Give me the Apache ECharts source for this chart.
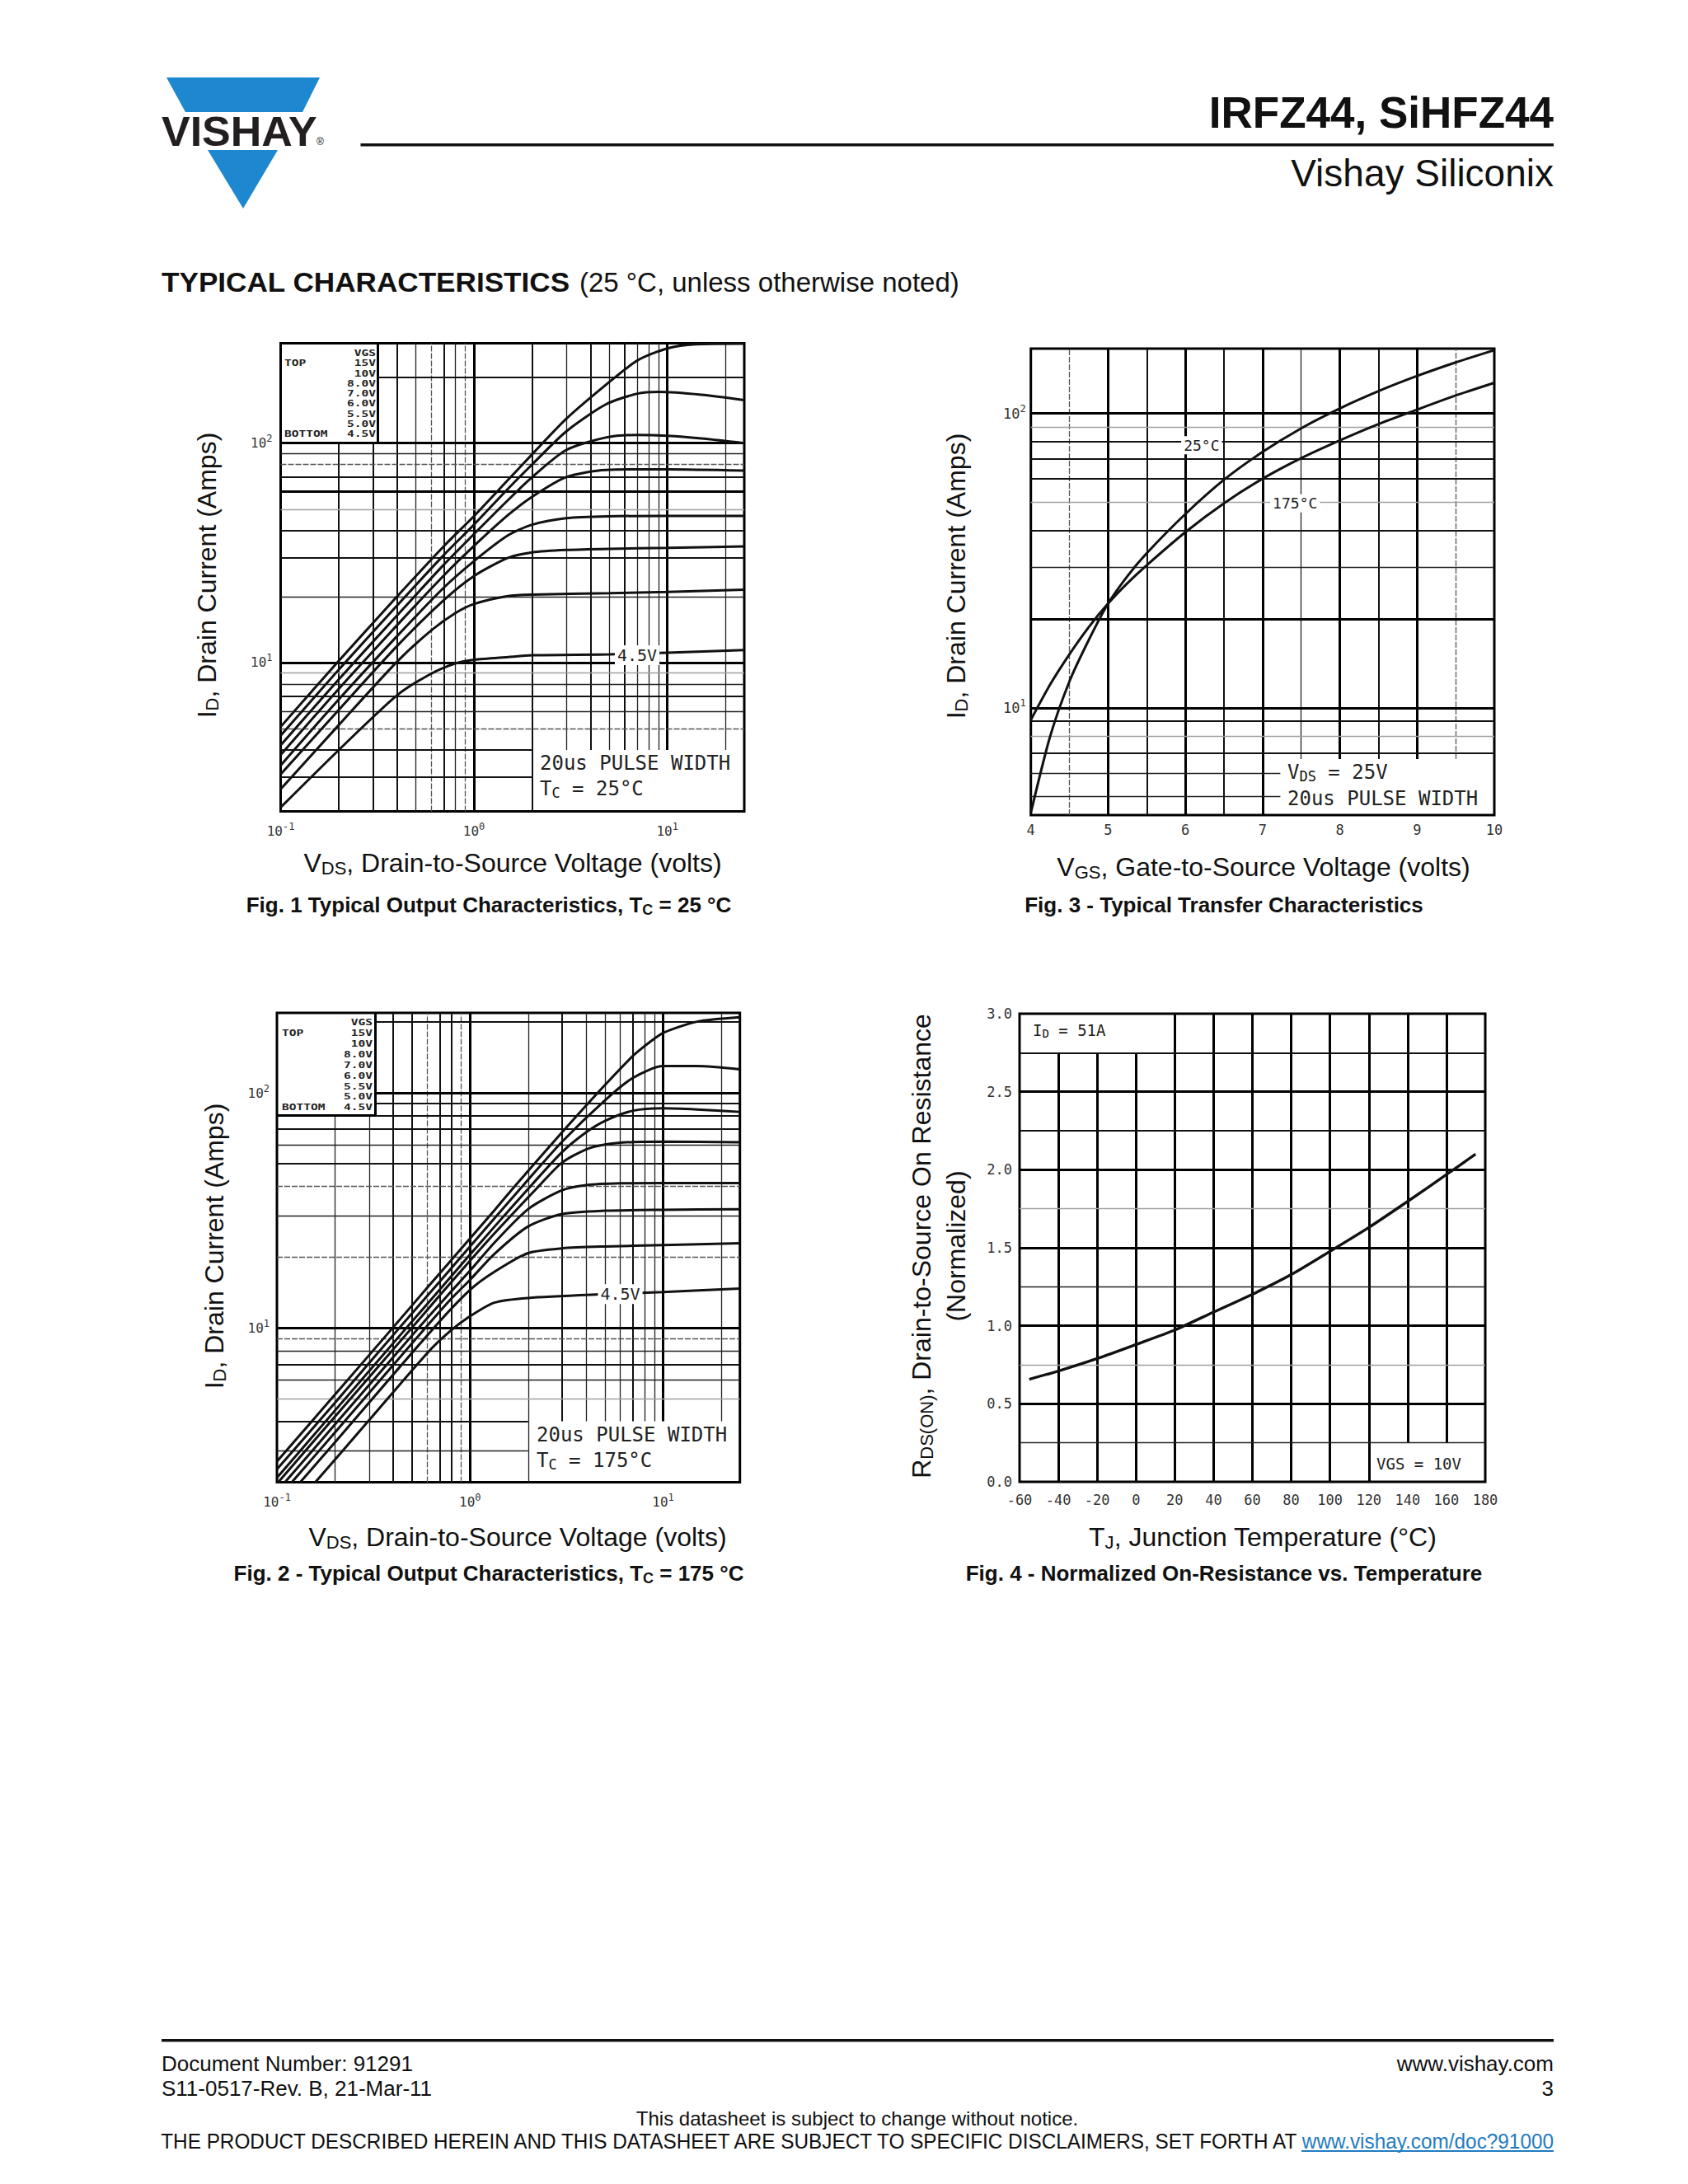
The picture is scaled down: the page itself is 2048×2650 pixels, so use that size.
<!DOCTYPE html>
<html>
<head>
<meta charset="utf-8">
<title>IRFZ44, SiHFZ44 - Typical Characteristics</title>
<script src="https://cdn.jsdelivr.net/npm/echarts@6/dist/echarts.min.js"></script>
<style>
  html, body { margin: 0; padding: 0; background: #fff; }
  #page { width: 2048px; height: 2650px; }
</style>
</head>
<body>
<div id="page"></div>
<script>
// ---------- values ----------
// Fig. 1, Tc = 25 C : [VDS (V), ID (A)] per gate voltage
const vgsLabels = ['15V', '10V', '8.0V', '7.0V', '6.0V', '5.5V', '5.0V', '4.5V'];
const f1_15V = [[0.1,5.1],[0.2,10.2],[0.4,20],[0.7,34],[1,46.5],[1.5,68],[2,89],[3,129],[4.8,184],[7,238],[10,270],[14,282],[25,284]];
const f1_10V = [[0.1,4.65],[0.2,9.3],[0.4,18.2],[0.7,31],[1,42.5],[1.5,62],[2,80],[3,113],[4.8,150],[7,168],[9,171],[15,166],[25,157]];
const f1_8V = [[0.1,4.2],[0.2,8.4],[0.4,16.4],[0.7,28],[1,38.5],[1.5,55],[2,70],[3,93],[4.8,106],[7,109],[10,108],[15,105],[25,100]];
const f1_7V = [[0.1,3.8],[0.2,7.6],[0.4,14.8],[0.7,25],[1,34],[1.5,47],[2,57],[3,70],[4.8,75.5],[10,76],[25,75]];
const f1_6V = [[0.1,3.4],[0.2,6.8],[0.4,13.2],[0.7,22],[1,29],[1.5,38],[2,42.5],[3,45.5],[5,46.4],[10,46.6],[25,46.6]];
const f1_55V = [[0.1,3.1],[0.2,6.1],[0.4,11.9],[0.7,19.3],[1,24.8],[1.5,30],[2,31.8],[3,32.6],[5,33],[10,33.3],[25,33.8]];
const f1_5V = [[0.1,2.65],[0.2,5.2],[0.4,10.1],[0.6,14],[0.8,16.8],[1,18.5],[1.5,20.1],[2,20.4],[5,20.7],[10,21],[25,21.5]];
const f1_45V = [[0.1,2.19],[0.2,4],[0.4,7.1],[0.6,8.9],[0.8,9.9],[1,10.3],[1.5,10.6],[2,10.8],[5,10.9],[10,11.1],[25,11.4]];

// Fig. 2, Tc = 175 C
const f2_15V = [[0.1,2.7],[0.2,5.2],[0.398,10],[0.6,14.8],[1,24],[1.336,31.6],[1.725,40.5],[2,46.5],[3,68],[5,108],[7,144],[8.5,164],[10,180],[15,201],[25,210]];
const f2_10V = [[0.1,2.5],[0.2,4.8],[0.431,10],[0.7,15.8],[1,22.2],[1.336,29.2],[1.915,41],[3,62],[5,93],[7,116],[10,130],[15,130],[25,126]];
const f2_8V = [[0.1,2.3],[0.2,4.45],[0.469,10],[0.7,14.6],[1,20.5],[1.336,26.9],[2.11,41],[3,56],[4,68],[5,76],[7,84],[10,86],[15,85],[25,83]];
const f2_7V = [[0.1,2.17],[0.2,4.19],[0.5,10],[0.7,13.8],[1,19.3],[1.336,25.2],[2.33,41],[3,50.5],[4,57.5],[5,60.3],[7,61.8],[10,62],[25,61.6]];
const f2_6V = [[0.11,2.2],[0.2,3.88],[0.542,10],[0.8,14.3],[1,17.5],[1.336,23],[2,32],[3,38.5],[4,40.5],[6,41.2],[10,41.3],[25,41.3]];
const f2_55V = [[0.1194,2.2],[0.2,3.59],[0.588,10],[0.8,13.3],[1,16],[1.336,20.6],[2,27],[3,30.5],[5,31.5],[10,31.8],[25,32]];
const f2_5V = [[0.132,2.2],[0.2,3.26],[0.65,10],[1,14.5],[1.336,17.3],[2,20.8],[3,21.8],[5,22.2],[10,22.5],[25,22.9]];
const f2_45V = [[0.158,2.2],[0.3,4.04],[0.6,7.8],[0.78,9.6],[1,11.2],[1.336,12.8],[2,13.4],[5,13.9],[10,14.2],[25,14.7]];

// Fig. 3, transfer characteristics (VDS = 25 V)
const vgsSteps = [4, 4.25, 4.5, 4.75, 5, 5.25, 5.5, 6, 6.5, 7, 7.5, 8, 8.5, 9, 9.5, 10];
const idAt25C = [4.4, 8, 12.3, 17, 22.6, 28, 33.5, 45.5, 59.5, 74, 89, 104, 119, 134, 149, 164];
const idAt175C = [9.1, 12, 15.2, 18.8, 22.6, 26.5, 30.5, 39.5, 49.5, 60, 70.5, 81, 92, 103, 115, 127];

// Fig. 4, normalized on-resistance vs junction temperature
const tjSteps = [-55, -40, -20, 0, 20, 40, 60, 80, 100, 120, 140, 160, 175];
const rdsNorm = [0.657, 0.71, 0.79, 0.88, 0.973, 1.088, 1.202, 1.328, 1.477, 1.63, 1.797, 1.969, 2.1];

// ---------- styling ----------
const SANS = '"Liberation Sans", Arial, sans-serif';
const MONO = '"DejaVu Sans Mono", monospace';
const BLUE = '#1d87cf';
const LINK = '#1f7bc0';

// grid line weights of the scanned graph paper
const LS = {
  T: { color: '#000', width: 3, type: 'solid' },
  M: { color: '#111', width: 2, type: 'solid' },
  N: { color: '#222', width: 1.3, type: 'solid' },
  G: { color: '#a0a0a0', width: 1.4, type: 'solid' },
  D: { color: '#555', width: 1.3, type: [7, 2] }
};
function vl(x, s, y0, y1) {
  if (y0 === undefined) return { xAxis: x, lineStyle: LS[s] };
  return [{ coord: [x, y0], lineStyle: LS[s] }, { coord: [x, y1] }];
}
function hl(y, s, x0, x1) {
  if (x0 === undefined) return { yAxis: y, lineStyle: LS[s] };
  return [{ coord: [x0, y], lineStyle: LS[s] }, { coord: [x1, y] }];
}

const grid1Lines = [
  vl(0.4,'M'), vl(0.5,'N'), vl(0.6,'D'), vl(0.7,'M'), vl(0.8,'N'), vl(0.9,'D'), vl(1,'T'), vl(2,'M'),
  vl(0.2,'M',2.1,100), vl(0.3,'M',2.1,100), vl(0.319,'T',100,285),
  vl(3,'N',4,285), vl(4,'M',4,285), vl(5,'N',4,285), vl(6,'M',4,285), vl(7,'N',4,285),
  vl(8,'N',4,285), vl(9,'N',4,285), vl(10,'T',4,285), vl(20,'N',4,285),
  hl(100,'T'), hl(90,'N'), hl(80,'D'), hl(70,'M'), hl(60,'T'), hl(50,'G'), hl(40,'M'), hl(30,'M'),
  hl(20,'N'), hl(10,'T'), hl(9,'G'), hl(8,'N'), hl(7,'M'), hl(6,'N'), hl(5,'D'),
  hl(200,'M',0.319,25), hl(4,'M',0.1,2), hl(3,'M',0.1,2)
];
const grid2Lines = [
  vl(0.4,'M'), vl(0.5,'M'), vl(0.6,'D'), vl(0.7,'M'), vl(0.8,'M'), vl(0.9,'D'), vl(1,'T'), vl(2,'N'),
  vl(0.2,'N',2.2,80), vl(0.3,'N',2.2,80), vl(0.324,'T',80,219),
  vl(3,'M',4,219), vl(4,'N',4,219), vl(5,'N',4,219), vl(6,'N',4,219), vl(7,'M',4,219),
  vl(8,'N',4,219), vl(9,'N',4,219), vl(10,'T',4,219), vl(20,'N',4,219),
  hl(80,'M'), hl(70,'M'), hl(60,'N'), hl(50,'M'), hl(40,'D'), hl(30,'N'), hl(20,'D'),
  hl(10,'T'), hl(9,'D'), hl(8,'N'), hl(7,'M'), hl(6,'N'), hl(5,'G'),
  hl(200,'M',0.324,25), hl(100,'T',0.324,25), hl(90,'M',0.324,25), hl(80,'T',0.1,0.324),
  hl(4,'M',0.1,2), hl(3,'N',0.1,2)
];
const grid3Lines = [
  vl(4.5,'D'), vl(5,'T'), vl(5.5,'M'), vl(6,'T'), vl(6.5,'M'), vl(7,'T'),
  vl(7.5,'N',6.7,166), vl(8,'T',6.7,166), vl(8.5,'M',6.7,166), vl(9,'T',6.7,166), vl(9.5,'D',6.7,166),
  hl(100,'T'), hl(90,'G'), hl(80,'M'), hl(70,'M'), hl(60,'M'), hl(50,'G'), hl(40,'M'), hl(30,'N'),
  hl(20,'T'), hl(10,'T'), hl(9,'M'), hl(8,'G'), hl(7,'M'),
  hl(6,'N',4,7.23), hl(5,'N',4,7.23)
];
const grid4Lines = [
  vl(20,'T'), vl(40,'T'), vl(60,'T'), vl(80,'T'), vl(100,'T'), vl(120,'T'),
  vl(-40,'T',0,2.75), vl(-20,'T',0,2.75), vl(0,'T',0,2.75),
  vl(140,'T',0.25,3), vl(160,'T',0.25,3),
  hl(2.75,'M'), hl(2.5,'T'), hl(2.25,'M'), hl(2,'T'), hl(1.75,'G'), hl(1.5,'T'),
  hl(1.25,'N'), hl(1,'T'), hl(0.75,'G'), hl(0.5,'T'), hl(0.25,'N')
];

function gridSeries(idx, lines) {
  return {
    type: 'line', xAxisIndex: idx, yAxisIndex: idx, data: [], silent: true, animation: false,
    markLine: { silent: true, animation: false, symbol: ['none', 'none'], label: { show: false },
      emphasis: { disabled: true }, z: 1, data: lines }
  };
}
function curve(idx, data, extra) {
  return Object.assign({
    type: 'line', xAxisIndex: idx, yAxisIndex: idx, data: data, showSymbol: false, symbol: 'none',
    smooth: 0.25, lineStyle: { color: '#111', width: 3 },
    silent: true, animation: false, z: 3
  }, extra);
}
function tag(coord, text, size) {
  return {
    symbol: 'rect', symbolSize: 1, silent: true, animation: false, itemStyle: { color: 'rgba(0,0,0,0)' },
    label: { show: true, position: 'inside', formatter: text, fontFamily: MONO, fontSize: size,
      color: '#222', backgroundColor: '#fff', padding: [2, 3] },
    data: [{ coord: coord }]
  };
}

function logLabels(size, margin) {
  return {
    margin: margin, color: '#333', fontFamily: MONO, fontSize: size,
    formatter: function (v) {
      const lg = Math.log10(v), e = Math.round(lg);
      return Math.abs(lg - e) < 1e-6 ? '{m|10}{e|' + e + '}' : '';
    },
    rich: {
      m: { fontFamily: MONO, fontSize: size, color: '#333' },
      e: { fontFamily: MONO, fontSize: Math.round(size * 0.72), color: '#333', padding: [0, 0, 11, 0] }
    }
  };
}
const plainAxis = { axisLine: { show: false }, axisTick: { show: false }, splitLine: { show: false } };
function numLabels(margin, fmt) {
  return { margin: margin, color: '#333', fontFamily: MONO, fontSize: 17, formatter: fmt };
}

// ---------- page texts ----------
function T(x, y, text, size, style, el) {
  return Object.assign({
    type: 'text', x: x, y: y, z: 100, silent: true,
    style: Object.assign({ text: text, fontSize: size, fontFamily: SANS, fill: '#111', align: 'left', verticalAlign: 'middle' }, style)
  }, el);
}
function sub(size, fam) {
  return { fontSize: size, fontFamily: fam || SANS, fill: '#111', padding: [Math.round(size * 0.6), 0, 0, 0] };
}
const titleRich = { s: sub(22) };
const capRich = { b: { fontSize: 26, fontFamily: SANS, fontWeight: 'bold', fill: '#111' }, s: Object.assign(sub(18), { fontWeight: 'bold' }) };
const monoRich = { s: sub(17, MONO) };
const UP = { rotation: Math.PI / 2 };

const elements = [
  // logo
  { type: 'polygon', z: 100, silent: true, shape: { points: [[202, 94], [388, 94], [367, 136], [225, 136]] }, style: { fill: BLUE } },
  { type: 'polygon', z: 100, silent: true, shape: { points: [[252, 182], [337, 182], [295, 253]] }, style: { fill: BLUE } },
  T(196, 160, 'VISHAY', 50, { fontWeight: 'bold', fill: '#231f20' }, { scaleX: 1.04 }),
  T(384, 172, '®', 12),
  T(1885, 136.5, 'IRFZ44, SiHFZ44', 53, { fontWeight: 'bold', align: 'right' }),
  { type: 'rect', z: 100, silent: true, shape: { x: 437.5, y: 174, width: 1447.5, height: 3.5 }, style: { fill: '#111' } },
  T(1885, 210, 'Vishay Siliconix', 46, { align: 'right' }),
  T(196, 342, 'TYPICAL CHARACTERISTICS', 33, { fontWeight: 'bold' }, { scaleX: 1.065 }),
  T(703, 342, '(25 °C, unless otherwise noted)', 33),

  // captions
  T(593, 1098, '{b|Fig. 1 Typical Output Characteristics, T}{s|C}{b| = 25 °C}', 26, { align: 'center', rich: capRich }),
  T(1485, 1098, '{b|Fig. 3 - Typical Transfer Characteristics}', 26, { align: 'center', rich: capRich }),
  T(593, 1909, '{b|Fig. 2 - Typical Output Characteristics, T}{s|C}{b| = 175 °C}', 26, { align: 'center', rich: capRich }),
  T(1485, 1909, '{b|Fig. 4 - Normalized On-Resistance vs. Temperature}', 26, { align: 'center', rich: capRich }),

  // axis titles
  T(622, 1047, 'V{s|DS}, Drain-to-Source Voltage (volts)', 32, { align: 'center', rich: titleRich }),
  T(251, 698, 'I{s|D}, Drain Current (Amps)', 32, { align: 'center', rich: titleRich }, UP),
  T(1533, 1052, 'V{s|GS}, Gate-to-Source Voltage (volts)', 32, { align: 'center', rich: titleRich }),
  T(1160, 699, 'I{s|D}, Drain Current (Amps)', 32, { align: 'center', rich: titleRich }, UP),
  T(628, 1865, 'V{s|DS}, Drain-to-Source Voltage (volts)', 32, { align: 'center', rich: titleRich }),
  T(260, 1512, 'I{s|D}, Drain Current (Amps)', 32, { align: 'center', rich: titleRich }, UP),
  T(1532, 1865, 'T{s|J}, Junction Temperature (°C)', 32, { align: 'center', rich: titleRich }),
  T(1118, 1512, 'R{s|DS(ON)}, Drain-to-Source On Resistance', 32, { align: 'center', rich: titleRich }, UP),
  T(1160, 1512, '(Normalized)', 32, { align: 'center' }, UP),

  // in-plot notes
  T(655, 926, '20us PULSE WIDTH', 24, { fontFamily: MONO, fill: '#222' }),
  T(655, 957, 'T{s|C} = 25°C', 24, { fontFamily: MONO, fill: '#222', rich: monoRich }),
  T(651, 1741, '20us PULSE WIDTH', 24, { fontFamily: MONO, fill: '#222' }),
  T(651, 1772, 'T{s|C} = 175°C', 24, { fontFamily: MONO, fill: '#222', rich: monoRich }),
  T(1562, 937, 'V{s|DS} = 25V', 24, { fontFamily: MONO, fill: '#222', rich: monoRich }),
  T(1562, 969, '20us PULSE WIDTH', 24, { fontFamily: MONO, fill: '#222' }),
  T(1253, 1250, 'I{s|D} = 51A', 19, { fontFamily: MONO, fill: '#222', rich: { s: sub(14, MONO) } }),
  T(1670, 1776, 'VGS = 10V', 19, { fontFamily: MONO, fill: '#222' }),

  // footer
  { type: 'rect', z: 100, silent: true, shape: { x: 196, y: 2474, width: 1689, height: 3.5 }, style: { fill: '#111' } },
  T(196, 2504, 'Document Number: 91291', 26),
  T(196, 2534, 'S11-0517-Rev. B, 21-Mar-11', 26),
  T(1885, 2504, 'www.vishay.com', 26, { align: 'right' }),
  T(1885, 2534, '3', 26, { align: 'right' }),
  T(1040, 2570, 'This datasheet is subject to change without notice.', 24, { align: 'center' }),
  T(1885, 2598, 'THE PRODUCT DESCRIBED HEREIN AND THIS DATASHEET ARE SUBJECT TO SPECIFIC DISCLAIMERS, SET FORTH AT {l|www.vishay.com/doc?91000}', 25,
    { align: 'right', rich: { l: { fontSize: 25, fontFamily: SANS, fill: LINK } } }, { scaleX: 0.974 }),
  { type: 'rect', z: 100, silent: true, shape: { x: 1579, y: 2609, width: 306, height: 2 }, style: { fill: LINK } }
];

// VGS legend boxes of Fig. 1 and Fig. 2 (wide, flat plotter lettering)
function legendBox(rightX, leftX, y0, step) {
  const st = { fontFamily: MONO, fontWeight: 'bold', fill: '#222' };
  const squash = { scaleX: 1.12, scaleY: 0.8 };
  const out = [T(rightX, y0, 'VGS', 13, Object.assign({ align: 'right' }, st), squash)];
  vgsLabels.forEach(function (lab, i) {
    out.push(T(rightX, y0 + step * (i + 1), lab, 13, Object.assign({ align: 'right' }, st), squash));
  });
  out.push(T(leftX, y0 + step, 'TOP', 13, st, squash));
  out.push(T(leftX, y0 + step * vgsLabels.length, 'BOTTOM', 13, st, squash));
  return out;
}
elements.push.apply(elements, legendBox(456, 345, 428.5, 12.25));
elements.push.apply(elements, legendBox(452, 342, 1240.5, 12.9));

const gridBox = { show: true, borderColor: '#000', borderWidth: 3, backgroundColor: '#fff', containLabel: false, outerBoundsMode: 'none' };

const option = {
  animation: false,
  backgroundColor: '#fff',
  grid: [
    Object.assign({ left: 340.5, top: 416.5, width: 562.5, height: 568 }, gridBox),
    Object.assign({ left: 1250.7, top: 423, width: 562.3, height: 566 }, gridBox),
    Object.assign({ left: 336, top: 1229, width: 561.7, height: 569.6 }, gridBox),
    Object.assign({ left: 1237, top: 1230, width: 565, height: 568 }, gridBox)
  ],
  xAxis: [
    Object.assign({ gridIndex: 0, type: 'log', logBase: 10, min: 0.1, max: 25, axisLabel: logLabels(16, 12) }, plainAxis),
    Object.assign({ gridIndex: 1, type: 'value', min: 4, max: 10, interval: 1, axisLabel: numLabels(9) }, plainAxis),
    Object.assign({ gridIndex: 2, type: 'log', logBase: 10, min: 0.1, max: 25, axisLabel: logLabels(16, 12) }, plainAxis),
    Object.assign({ gridIndex: 3, type: 'value', min: -60, max: 180, interval: 20, axisLabel: numLabels(13) }, plainAxis)
  ],
  yAxis: [
    Object.assign({ gridIndex: 0, type: 'log', logBase: 10, min: 2.1, max: 285, axisLabel: logLabels(16, 10) }, plainAxis),
    Object.assign({ gridIndex: 1, type: 'log', logBase: 10, min: 4.32, max: 166, axisLabel: logLabels(17, 6) }, plainAxis),
    Object.assign({ gridIndex: 2, type: 'log', logBase: 10, min: 2.2, max: 219, axisLabel: logLabels(16, 9) }, plainAxis),
    Object.assign({ gridIndex: 3, type: 'value', min: 0, max: 3, interval: 0.5,
      axisLabel: numLabels(9, function (v) { return v.toFixed(1); }) }, plainAxis)
  ],
  graphic: { elements: elements },
  series: [
    gridSeries(0, grid1Lines),
    curve(0, f1_15V), curve(0, f1_10V), curve(0, f1_8V), curve(0, f1_7V),
    curve(0, f1_6V), curve(0, f1_55V), curve(0, f1_5V),
    curve(0, f1_45V, { markPoint: tag([6.98, 10.8], '4.5V', 20) }),

    gridSeries(1, grid3Lines),
    curve(1, vgsSteps.map(function (v, i) { return [v, idAt25C[i]]; }), { markPoint: tag([6.21, 78], '25°C', 18) }),
    curve(1, vgsSteps.map(function (v, i) { return [v, idAt175C[i]]; }), { markPoint: tag([7.42, 49.5], '175°C', 18) }),

    gridSeries(2, grid2Lines),
    curve(2, f2_15V), curve(2, f2_10V), curve(2, f2_8V), curve(2, f2_7V),
    curve(2, f2_6V), curve(2, f2_55V), curve(2, f2_5V),
    curve(2, f2_45V, { markPoint: tag([6.0, 13.9], '4.5V', 20) }),

    gridSeries(3, grid4Lines),
    curve(3, tjSteps.map(function (t, i) { return [t, rdsNorm[i]]; }), { lineStyle: { color: '#111', width: 3.4 } })
  ]
};

const chart = echarts.init(document.getElementById('page'), null, { renderer: 'svg', width: 2048, height: 2650 });
chart.setOption(option);
</script>
</body>
</html>
